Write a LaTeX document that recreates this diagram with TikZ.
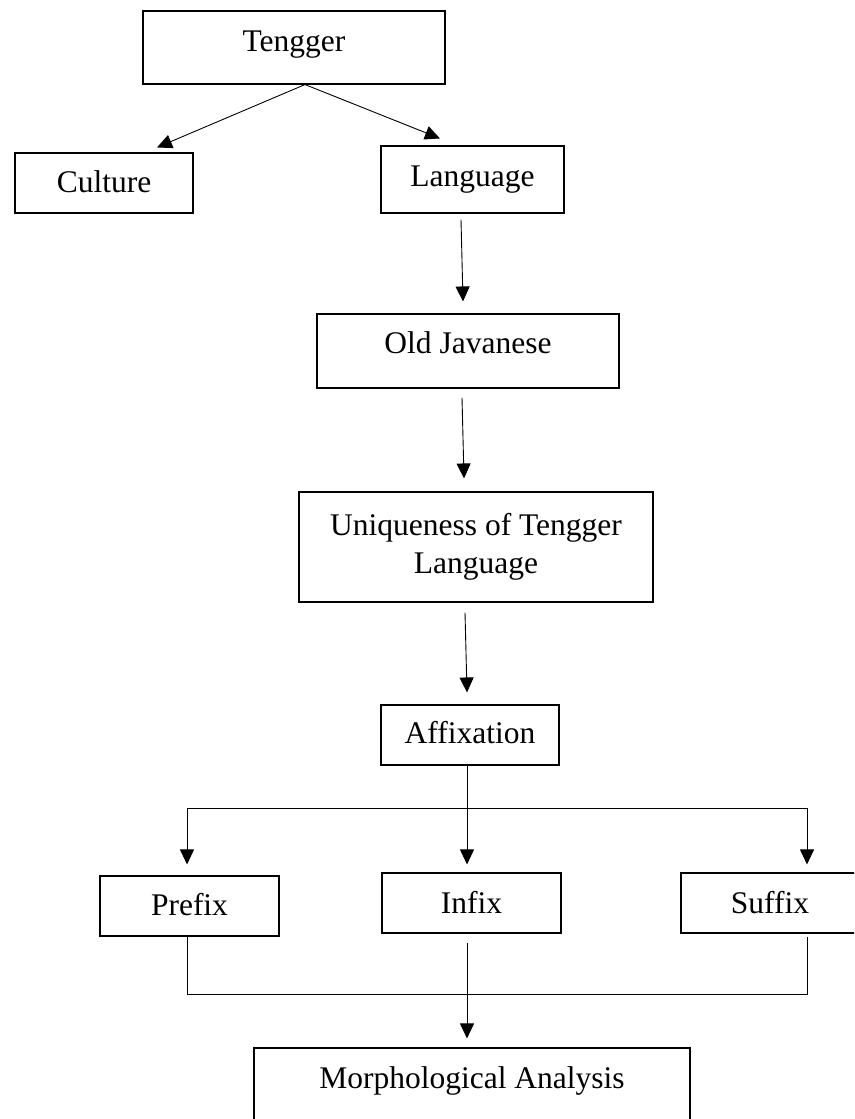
\documentclass[tikz,border=0pt]{standalone}
\usepackage{fontspec}
\setmainfont{Liberation Serif}
\usetikzlibrary{arrows.meta,calc}

\begin{document}
\begin{tikzpicture}[x=1pt,y=-1pt,
  block/.style={draw, line width=1.1pt, inner sep=0pt, align=center,
    font=\fontsize{31.5}{38}\selectfont},
  arr/.style={-{Triangle[length=15pt,width=14pt]}, line width=0.9pt}]
\path[use as bounding box] (0,0) rectangle (854,1119);
\clip (0,0) rectangle (854,1119);
% top level
\node[block, minimum width=302pt, text height=40pt, text depth=33pt] (teng) at (294,47.5) {Tengger};
\node[block, minimum width=178pt, text height=39pt, text depth=21pt] (cult) at (104,183) {Culture};
\node[block, minimum width=183pt, text height=40pt, text depth=27pt] (lang) at (472.5,179.5) {Language};
% main column
\node[block, minimum width=302pt, text height=39pt, text depth=35pt] (old) at (468,351) {Old Javanese};
\node[block, minimum width=354pt, minimum height=110pt] (uniq) at (476,547) {Uniqueness of Tengger\\Language};
\node[block, minimum width=178pt, text height=38pt, text depth=22pt] (affix) at (470,735) {Affixation};
% affix types
\node[block, minimum width=179pt, text height=39pt, text depth=21pt] (pre) at (189.5,906) {Prefix};
\node[block, minimum width=179pt, text height=40pt, text depth=20pt] (inf) at (471.5,903) {Infix};
\node[block, minimum width=178pt, text height=40pt, text depth=20pt] (suf) at (770,903) {Suffix};
\node[block, minimum width=436pt, text height=40pt, text depth=45pt] (morph) at (472,1090.5) {Morphological Analysis};
% junctions
\coordinate (split) at ($(teng.south)+(11,0)$);
\coordinate (bl) at (187,808);
\coordinate (br) at (807,808);
\coordinate (jl) at (187,994);
\coordinate (jr) at (807,994);
% arrows
\draw[arr] (split) -- ([xshift=53pt,yshift=5pt]cult.north);
\draw[arr] (split) -- ([xshift=-32.5pt,yshift=7pt]lang.north);
\draw[arr] ([xshift=-11.5pt,yshift=-6pt]lang.south) -- ([xshift=-5pt,yshift=12pt]old.north);
\draw[arr] ([xshift=-6pt,yshift=-9pt]old.south) -- ([xshift=-12pt,yshift=13pt]uniq.north);
\draw[arr] ([xshift=-11pt,yshift=-10pt]uniq.south) -- ([xshift=-3pt,yshift=12pt]affix.north);
\draw[arr] ([xshift=-3pt]affix.south) -- ([xshift=-4.5pt,yshift=8pt]inf.north);
\draw[line width=0.9pt] (bl) -- (br);
\draw[arr, shorten >=11pt] (bl) -- (bl |- pre.north);
\draw[arr, shorten >=8pt] (br) -- (br |- suf.north);
\draw[line width=0.9pt] (pre.south -| jl) -- (jl) -- (jr) -- ([yshift=-3pt]suf.south -| jr);
\draw[arr] ([xshift=-4.5pt,yshift=-9pt]inf.south) -- ([xshift=-5pt,yshift=9pt]morph.north);
\end{tikzpicture}
\end{document}
